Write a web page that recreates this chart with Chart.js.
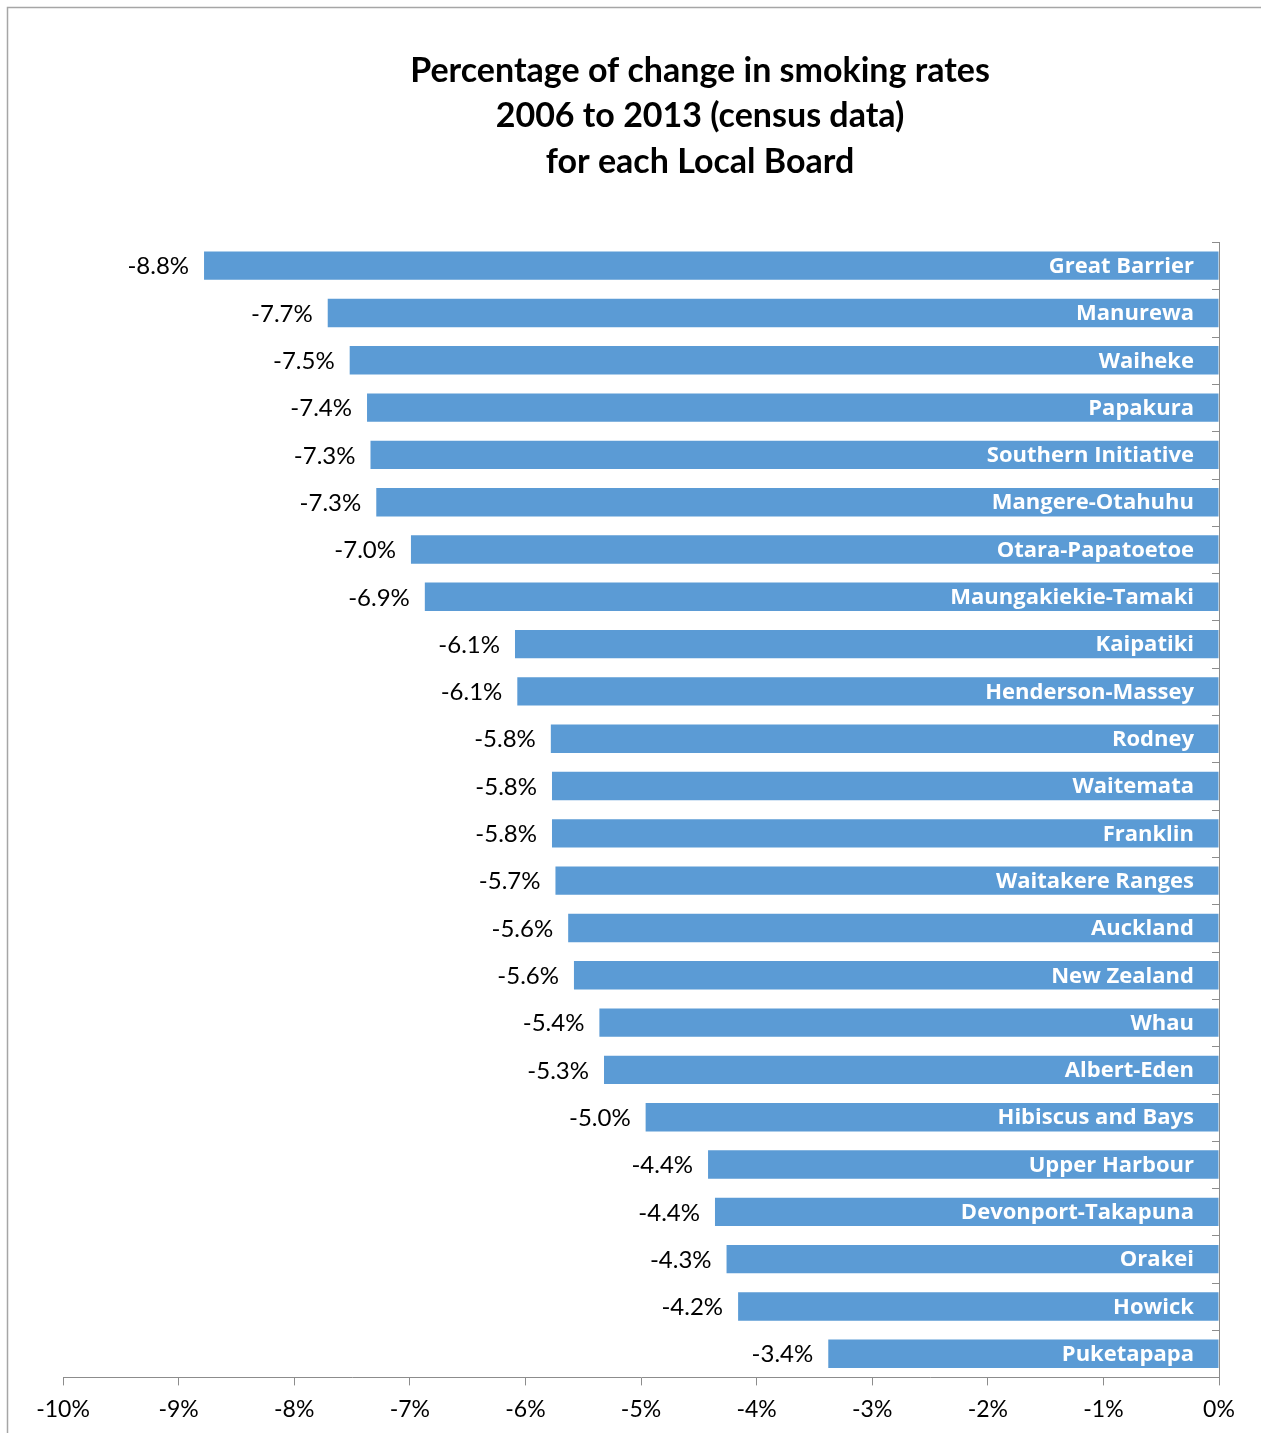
<!DOCTYPE html>
<html>
<head>
<meta charset="utf-8">
<script src="https://cdn.jsdelivr.net/npm/chart.js@4.4.1/dist/chart.umd.min.js"></script>
<style>
    html, body { margin: 0; padding: 0; background: #fff; }
    #wrap { width: 1261px; height: 1433px; position: relative; }
</style>
</head>
<body>
<div id="wrap"><canvas id="smokingData"></canvas></div>
<script>
// data
const boards = ["Great Barrier", "Manurewa", "Waiheke", "Papakura", "Southern Initiative", "Mangere-Otahuhu",
    "Otara-Papatoetoe", "Maungakiekie-Tamaki", "Kaipatiki", "Henderson-Massey", "Rodney", "Waitemata",
    "Franklin", "Waitakere Ranges", "Auckland", "New Zealand", "Whau", "Albert-Eden", "Hibiscus and Bays",
    "Upper Harbour", "Devonport-Takapuna", "Orakei", "Howick", "Puketapapa"];
const changeValues = [-8.78, -7.71, -7.52, -7.37, -7.34, -7.29, -6.99, -6.87, -6.09, -6.07, -5.78, -5.77,
    -5.77, -5.74, -5.63, -5.58, -5.36, -5.32, -4.96, -4.42, -4.36, -4.26, -4.16, -3.38];
const xTicks = [-10, -9, -8, -7, -6, -5, -4, -3, -2, -1, 0];
const titleLines = ["Percentage of change in smoking rates", "2006 to 2013 (census data)", "for each Local Board"];

const smokingChartElm = document.getElementById('smokingData');

const smokingChartData = {
    labels: boards,
    datasets: [{
        label: 'Change',
        data: changeValues,
        backgroundColor: '#5b9bd5',
        borderWidth: 0,
        barPercentage: 0.6,
        categoryPercentage: 1
    }]
};

// frame, title, y-axis ticks and the two sets of bar labels
const labelPlugin = {
    id: 'labelPlugin',
    beforeDraw: (chart) => {
        const ctx = chart.ctx;
        ctx.save();
        ctx.fillStyle = '#fff';
        ctx.fillRect(0, 0, chart.width, chart.height);
        ctx.strokeStyle = '#a6a6a6';
        ctx.lineWidth = 1.5;
        ctx.beginPath();
        ctx.moveTo(7.5, chart.height);
        ctx.lineTo(7.5, 7.5);
        ctx.lineTo(chart.width, 7.5);
        ctx.stroke();

        ctx.fillStyle = '#000';
        ctx.font = 'bold 34px Lato';
        ctx.textAlign = 'center';
        ctx.textBaseline = 'middle';
        titleLines.forEach((line, i) => {
            ctx.fillText(line, 700, 71 + i * 45.5);
        });
        ctx.restore();
    },
    afterDatasetsDraw: (chart) => {
        const ctx = chart.ctx;
        const yScale = chart.scales.y;
        const xScale = chart.scales.x;
        const area = chart.chartArea;
        const band = (area.bottom - area.top) / boards.length;
        ctx.save();

        ctx.strokeStyle = '#8c8c8c';
        ctx.lineWidth = 1;
        for (let i = 0; i <= boards.length; i++) {
            const y = Math.round(area.top + i * band) + 0.5;
            ctx.beginPath();
            ctx.moveTo(area.right - 7, y);
            ctx.lineTo(area.right, y);
            ctx.stroke();
        }

        ctx.textBaseline = 'middle';
        boards.forEach((name, i) => {
            const y = yScale.getPixelForValue(i);
            const xEnd = xScale.getPixelForValue(changeValues[i]);

            ctx.fillStyle = '#fff';
            ctx.font = 'bold 22px "Open Sans"';
            ctx.textAlign = 'right';
            ctx.fillText(name, area.right - 25, y + 1);

            ctx.fillStyle = '#000';
            ctx.font = '24px Lato';
            ctx.fillText(changeValues[i].toFixed(1) + '%', xEnd - 15, y + 1);
        });
        ctx.restore();
    }
};

const smokingChartconfig = {
    type: 'bar',
    data: smokingChartData,
    options: {
        indexAxis: 'y',
        responsive: true,
        maintainAspectRatio: false,
        animation: false,
        layout: {
            padding: { top: 242, left: 63, right: 42, bottom: 0 }
        },
        plugins: {
            legend: { display: false },
            title: { display: false },
            tooltip: { enabled: false }
        },
        scales: {
            x: {
                min: -10,
                max: 0,
                afterBuildTicks: (scale) => {
                    scale.ticks = xTicks.map(v => ({ value: v }));
                },
                grid: {
                    drawOnChartArea: false,
                    tickLength: 8,
                    color: '#8c8c8c'
                },
                border: { color: '#8c8c8c' },
                ticks: {
                    color: '#000',
                    font: { family: 'Lato', size: 23 },
                    padding: 10,
                    maxRotation: 0,
                    callback: (v) => v + '%'
                }
            },
            y: {
                position: 'right',
                grid: { drawOnChartArea: false, drawTicks: false },
                border: { color: '#8c8c8c' },
                ticks: { display: false }
            }
        }
    },
    plugins: [labelPlugin]
};

const smokingChart = new Chart(smokingChartElm, smokingChartconfig);
</script>
</body>
</html>
